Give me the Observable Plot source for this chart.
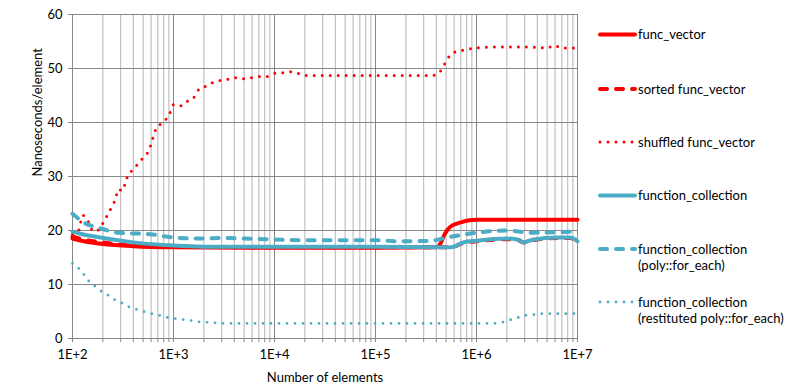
<!DOCTYPE html>
<html><head><meta charset="utf-8">
<script src="https://cdn.jsdelivr.net/npm/d3@7"></script>
<script src="https://cdn.jsdelivr.net/npm/@observablehq/plot@0.6"></script>
<style>
body{margin:0;background:#fff;}
#chart{width:795px;height:390px;}
</style></head><body><div id="chart"></div>
<script>
// ---- data ----
const seriesNames = ["func_vector", "sorted func_vector", "shuffled func_vector",
  "function_collection", "function_collection (poly::for_each)", "function_collection (restituted poly::for_each)"];

const funcVectorN = [100, 130, 200, 400, 1000, 1e4, 1e5, 4e5, 4.4e5, 4.8e5, 5.5e5, 7e5, 8.5e5, 1e6, 1e7];
const funcVectorV = [18.5, 18.0, 17.5, 17.1, 16.9, 16.8, 16.8, 16.9, 17.6, 19.2, 20.7, 21.5, 21.9, 22.0, 22.0];

const sortedN = [100, 130, 200, 400, 1000, 1e4, 1e5, 5.6e5, 7.4e5, 1e6, 2e6, 2.6e6, 2.9e6, 3.6e6, 6.3e6, 8.5e6, 1e7];
const sortedV = [18.9, 18.3, 17.8, 17.2, 17.0, 16.9, 16.9, 16.9, 17.7, 18.0, 18.4, 18.2, 17.8, 18.2, 18.6, 18.6, 18.0];

const shuffledN = [100, 115, 126, 145, 155, 170, 195, 209, 229, 251, 269, 282, 316, 331, 355, 398, 447, 501, 562, 603, 631, 676, 759, 851, 933,
  1000, 1200, 1410, 1620, 1780, 2090, 2450, 2950, 3470, 4070, 4900, 5890, 7080, 8320, 10000, 12000, 14500, 17000, 20000,
  363000, 427000, 468000, 513000, 575000, 692000, 832000, 1e6, 1.2e6, 2e6, 3e6, 4e6, 5e6, 5.9e6, 6.9e6, 8.3e6, 1e7];
const shuffledV = [19.3, 20.0, 22.8, 21.5, 20.2, 19.8, 21.0, 22.0, 23.3, 24.8, 26.0, 27.6, 27.4, 28.7, 30.2, 31.3, 32.4, 33.5, 34.6, 36.1, 37.4, 38.9, 39.8, 40.7, 42.0,
  43.3, 43.1, 44.1, 44.8, 46.1, 46.7, 47.4, 47.8, 48.0, 48.3, 48.1, 48.3, 48.5, 48.5, 49.1, 49.2, 49.4, 49.1, 48.7,
  48.7, 49.2, 50.4, 51.7, 52.8, 53.3, 53.6, 53.8, 53.9, 54.0, 54.0, 53.9, 53.8, 54.3, 53.8, 53.8, 53.8];

const collectionN = [100, 120, 189, 400, 1000, 2000, 1e4, 1e5, 4e5, 5.6e5, 7.4e5, 1e6, 2e6, 2.6e6, 2.9e6, 3.6e6, 6.3e6, 8.5e6, 1e7];
const collectionV = [19.8, 19.4, 18.7, 17.8, 17.2, 17.0, 17.0, 17.0, 16.9, 16.9, 17.8, 18.1, 18.5, 18.3, 17.8, 18.3, 18.7, 18.7, 18.0];

const polyN = [100, 129, 189, 282, 590, 1000, 1800, 3000, 2e4, 1e5, 1.66e5, 3.5e5, 5.1e5, 1e6, 2e6, 3.4e6, 1e7];
const polyV = [23.1, 21.5, 20.4, 19.6, 19.3, 18.7, 18.5, 18.6, 18.2, 18.2, 18.0, 18.1, 18.7, 19.6, 20.0, 19.6, 19.8];

const restitutedN = [100, 115, 129, 144, 169, 194, 222, 260, 306, 358, 429, 505, 606, 727, 872, 1024, 1254, 1510, 1770, 2170, 3420,
  1e4, 1e5, 1.5e6, 1.8e6, 2.2e6, 2.6e6, 3.1e6, 3.6e6, 4.3e6, 1e7];
const restitutedV = [13.9, 13.0, 11.9, 10.7, 9.6, 8.7, 8.1, 7.2, 6.6, 5.9, 5.4, 5.0, 4.6, 4.3, 3.9, 3.7, 3.5, 3.3, 3.1, 3.0, 2.8,
  2.8, 2.8, 2.8, 3.0, 3.5, 3.9, 4.3, 4.4, 4.6, 4.6];

const xTickValues = [1e2, 1e3, 1e4, 1e5, 1e6, 1e7];
const xTickLabels = ["1E+2", "1E+3", "1E+4", "1E+5", "1E+6", "1E+7"];
const yTickValues = [0, 10, 20, 30, 40, 50, 60];
const legendLines = [["func_vector"], ["sorted func_vector"], ["shuffled func_vector"],
  ["function_collection"], ["function_collection", "(poly::for_each)"], ["function_collection", "(restituted poly::for_each)"]];

// ---- styles ----
const RED = "#ff0000", BLUE = "#4bacc6";
const styles = [
  {stroke: RED, strokeWidth: 4, dash: null},
  {stroke: RED, strokeWidth: 4, dash: "7,9"},
  {stroke: RED, strokeWidth: 3, dash: "0,8"},
  {stroke: BLUE, strokeWidth: 4, dash: null},
  {stroke: BLUE, strokeWidth: 4, dash: "7,9"},
  {stroke: BLUE, strokeWidth: 2.8, dash: "0,8"}
];
const seriesData = [
  [funcVectorN, funcVectorV], [sortedN, sortedV], [shuffledN, shuffledV],
  [collectionN, collectionV], [polyN, polyV], [restitutedN, restitutedV]
].map(([ns, vs], k) => ns.map((n, i) => ({series: seriesNames[k], n, v: vs[i]})));

const minorTicks = d3.range(2, 7).flatMap(e => d3.range(2, 10).map(m => m * 10 ** e));
const allTicks = [...xTickValues, ...minorTicks];
const FONT = "Lato, 'Open Sans', sans-serif";
const GRID = "#878787", MINOR = "#b4b4b4";
const labelFor = d => {
  const i = xTickValues.indexOf(d);
  return i >= 0 ? xTickLabels[i] : "";
};

const chart = Plot.plot({
  width: 795, height: 390,
  marginLeft: 72, marginRight: 218, marginTop: 14, marginBottom: 52,
  style: {fontFamily: FONT, fontSize: "13px", color: "#000", background: "#fff", overflow: "visible"},
  x: {type: "log", domain: [100, 1e7]},
  y: {domain: [0, 60]},
  marks: [
    Plot.ruleX(minorTicks, {stroke: MINOR, strokeOpacity: 1}),
    Plot.ruleX(xTickValues, {stroke: GRID, strokeOpacity: 1}),
    Plot.ruleY(yTickValues, {stroke: GRID, strokeOpacity: 1}),
    Plot.axisX({ticks: allTicks, tickFormat: labelFor, tickSize: 4, tickPadding: 7, stroke: GRID, strokeOpacity: 1, label: null, fill: "#000"}),
    Plot.axisY({ticks: yTickValues, tickSize: 4, tickPadding: 6, stroke: GRID, strokeOpacity: 1, label: null, fill: "#000"}),
    ...seriesData.map((data, k) => Plot.line(data, {
      x: "n", y: "v", stroke: styles[k].stroke, strokeWidth: styles[k].strokeWidth,
      strokeDasharray: styles[k].dash, strokeLinecap: "round", strokeLinejoin: "round", curve: "monotone-x"
    })),
    Plot.text(["Number of elements"], {frameAnchor: "bottom", dy: 43, fill: "#000"}),
    Plot.text(["Nanoseconds/element"], {frameAnchor: "left", dx: -35, rotate: -90, fill: "#000"})
  ]
});

// ---- legend ----
const legendY = [34.5, 89, 142, 195.5, 249, 302];
const svg = d3.select(chart);
const lg = svg.append("g").attr("font-family", FONT).attr("font-size", 13).attr("text-anchor", "start");
legendLines.forEach((lines, k) => {
  const y = legendY[k];
  lg.append("line").attr("x1", 600).attr("x2", 635).attr("y1", y).attr("y2", y)
    .attr("stroke", styles[k].stroke).attr("stroke-width", styles[k].strokeWidth)
    .attr("stroke-linecap", "round").attr("stroke-dasharray", styles[k].dash);
  lines.forEach((t, j) => {
    lg.append("text").attr("x", 638).attr("y", y + j * 16).attr("dy", "0.35em")
      .attr("text-anchor", "start").attr("fill", "#000").text(t);
  });
});

document.getElementById("chart").appendChild(chart);
</script></body></html>
